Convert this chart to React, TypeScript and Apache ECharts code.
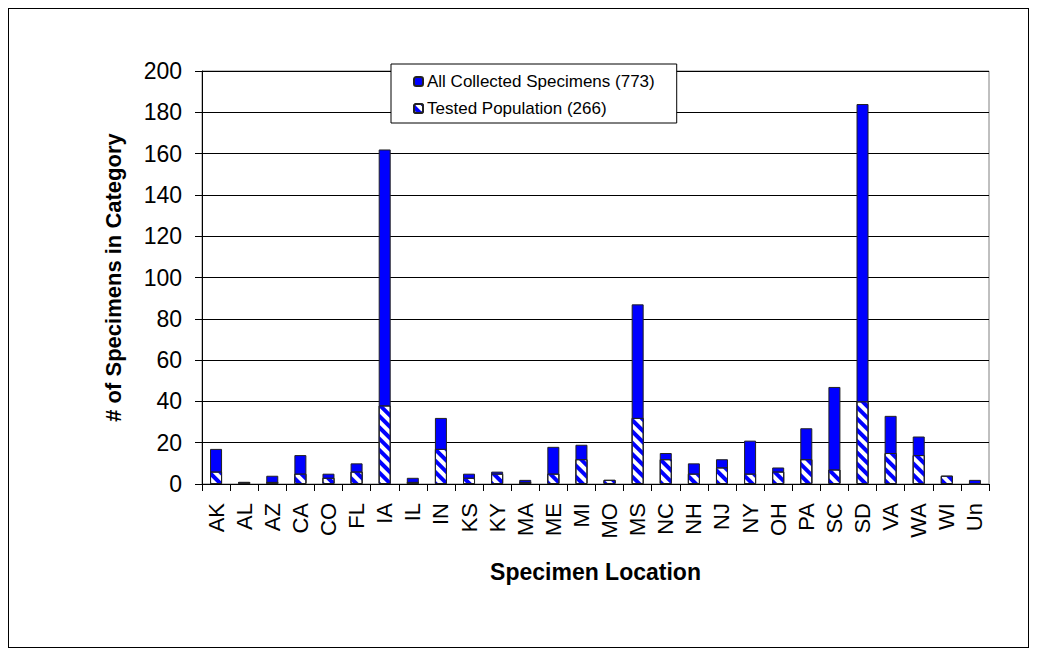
import React, { useEffect, useRef } from "react";
import * as echarts from "echarts";

const categories = ["AK","AL","AZ","CA","CO","FL","IA","IL","IN","KS","KY","MA","ME","MI","MO","MS","NC","NH","NJ","NY","OH","PA","SC","SD","VA","WA","WI","Un"];
const allCollected = [17,1,4,14,5,10,162,3,32,5,6,2,18,19,2,87,15,10,12,21,8,27,47,184,33,23,4,2];
const tested = [6,1,1,5,3,6,38,1,17,3,5,1,5,12,2,32,12,5,8,5,6,12,7,40,15,14,4,0];
const seriesNames = ["All Collected Specimens (773)", "Tested Population (266)"];
const yTicks = { min: 0, max: 200, interval: 20 };

const FONT = "'Liberation Sans', Arial, sans-serif";

export default function App() {
  const ref = useRef<HTMLDivElement>(null);
  useEffect(() => {
    if (!ref.current) return;
    const chart = echarts.init(ref.current, undefined, { renderer: "svg" });
    chart.setOption({
      animation: false,
      backgroundColor: "#ffffff",
      textStyle: { fontFamily: FONT },
      grid: {
        left: 193,
        top: 62,
        right: 39,
        bottom: 163,
        show: true,
        borderColor: "#808080",
        borderWidth: 1,
        containLabel: false,
      },
      legend: {
        orient: "vertical",
        left: 382,
        top: 55,
        padding: [9, 22, 6, 22],
        itemWidth: 9,
        itemHeight: 9,
        itemGap: 10,
        borderColor: "#000",
        borderWidth: 1,
        backgroundColor: "#fff",
        textStyle: { fontSize: 17, color: "#000", fontFamily: FONT, lineHeight: 16, padding: [0, 0, 0, -1] },
        data: seriesNames,
      },
      xAxis: {
        type: "category",
        data: categories,
        boundaryGap: true,
        name: "Specimen Location",
        nameLocation: "middle",
        nameGap: 76,
        nameTextStyle: { fontSize: 23, fontWeight: "bold", color: "#000", fontFamily: FONT },
        axisLine: { lineStyle: { color: "#000", width: 1 } },
        axisTick: { show: true, length: 7, alignWithLabel: false, lineStyle: { color: "#000" } },
        axisLabel: { rotate: 90, fontSize: 22, color: "#000", margin: 19, interval: 0, fontFamily: FONT },
        splitLine: { show: false },
      },
      yAxis: {
        type: "value",
        min: yTicks.min,
        max: yTicks.max,
        interval: yTicks.interval,
        name: "# of Specimens in Category",
        nameLocation: "middle",
        nameGap: 78,
        nameTextStyle: { fontSize: 22, fontWeight: "bold", color: "#000", fontFamily: FONT },
        axisLine: { show: true, lineStyle: { color: "#000", width: 1 } },
        axisTick: { show: true, length: 7, lineStyle: { color: "#000" } },
        axisLabel: { fontSize: 23, color: "#000", margin: 20, fontFamily: FONT },
        splitLine: { show: true, lineStyle: { color: "#000", width: 1 } },
      },
      series: [
        {
          name: seriesNames[0],
          type: "bar",
          data: allCollected,
          barWidth: 12,
          barGap: "-100%",
          itemStyle: { color: "#0000ff", borderColor: "#222", borderWidth: 1 },
        },
        {
          name: seriesNames[1],
          type: "bar",
          data: tested,
          barWidth: 12,
          barGap: "-100%",
          itemStyle: {
            color: "#ffffff",
            borderColor: "#222",
            borderWidth: 1,
            decal: {
              symbol: "rect",
              color: "#0000ff",
              backgroundColor: "#ffffff",
              dashArrayX: [1, 0],
              dashArrayY: [4, 4],
              rotation: Math.PI / 4,
              symbolSize: 1,
            },
          },
        },
      ],
    });
    return () => chart.dispose();
  }, []);
  return (
    <div style={{ width: 1021, height: 640, border: "1px solid #000", boxSizing: "border-box", position: "relative" }}>
      <div ref={ref} style={{ width: 1019, height: 638 }} />
    </div>
  );
}
